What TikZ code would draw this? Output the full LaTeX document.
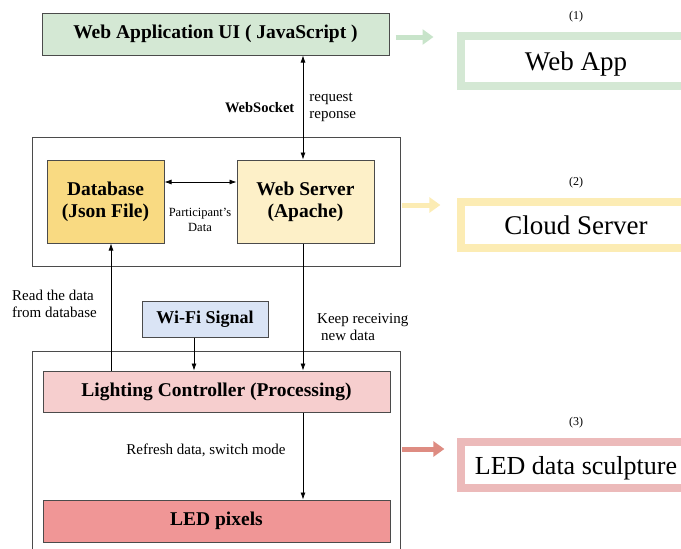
\documentclass[tikz,border=0pt]{standalone}
\usepackage{fontspec}
\setmainfont{Liberation Serif}
\usetikzlibrary{arrows.meta,positioning}
\definecolor{lsgray}{RGB}{75,75,75}
\definecolor{lsgreen}{RGB}{212,232,212}
\definecolor{lsgreenarr}{RGB}{200,228,202}
\definecolor{lsgold}{RGB}{249,218,130}
\definecolor{lscream}{RGB}{253,240,200}
\definecolor{lsyellow}{RGB}{252,236,180}
\definecolor{lsblue}{RGB}{218,228,245}
\definecolor{lspink}{RGB}{246,206,206}
\definecolor{lssalmon}{RGB}{240,150,150}
\definecolor{lsredarr}{RGB}{222,140,130}
\definecolor{lsrose}{RGB}{236,186,186}
\tikzset{
  lsbox/.style={draw=lsgray, line width=1pt, align=center, inner sep=0pt,
    font=\bfseries\fontsize{19.5}{22}\selectfont},
  lsframe/.style={draw=lsgray, line width=.8pt, inner sep=0pt},
  lspanel/.style={line width=8pt, fill=white, align=center, inner sep=0pt,
    minimum width=230pt, text depth=-2pt, font=\fontsize{27}{30}\selectfont},
  lsnum/.style={font=\fontsize{12}{14}\selectfont},
  lsnote/.style={font=\fontsize{15}{17}\selectfont, align=left, inner sep=0pt},
  lsarr/.style={-{Latex[length=7pt,width=5pt]}, line width=.7pt},
  lsarrboth/.style={{Latex[length=7pt,width=5pt]}-{Latex[length=7pt,width=5pt]}, line width=.7pt},
  lsbig/.style={-{Triangle[length=11pt,width=15pt]}, line width=5pt}
}

\begin{document}
\begin{tikzpicture}[x=1pt, y=-1pt]
  \useasboundingbox (0,0) rectangle (681,549);
  \clip (0,0) rectangle (681,549);

  % containers
  \node[lsframe, minimum width=368pt, minimum height=129pt] (cloud) at (216,201.5) {};
  \node[lsframe, minimum width=368pt, minimum height=209pt] (device) at (216,455.5) {};

  % blocks
  \node[lsbox, fill=lsgreen, minimum width=347pt, minimum height=42pt] (webui) at (215.5,34) {Web Application UI ( JavaScript )};
  \node[lsbox, fill=lsgold, minimum width=117pt, minimum height=83pt] (db) at (105.5,201.5) {Database\\(Json File)};
  \node[lsbox, fill=lscream, minimum width=137pt, minimum height=83pt] (srv) at (305.5,201.5) {Web Server\\(Apache)};
  \node[lsbox, fill=lsblue, minimum width=126pt, minimum height=36pt, font=\bfseries\fontsize{18}{21}\selectfont] (wifi) at (205,319) {Wi-Fi Signal};
  \node[lsbox, fill=lspink, minimum width=347pt, minimum height=41pt] (lc) at (216.5,391.5) {Lighting Controller (Processing)};
  \node[lsbox, fill=lssalmon, minimum width=347pt, minimum height=42pt] (led) at (216.5,521) {LED pixels};

  \coordinate (bus) at (303,0);
  \coordinate (feed) at (111,0);
  \coordinate (sig) at (194,0);

  % connectors
  \draw[lsarrboth] (webui.south -| bus) -- node[left=5pt, font=\bfseries\fontsize{14.5}{17}\selectfont] {WebSocket}
    node[right=6pt, lsnote] {request\\reponse} (srv.north -| bus);
  \draw[lsarrboth] ([yshift=19.5pt]db.east) -- ([yshift=19.5pt]srv.west);
  \node[font=\fontsize{12.5}{15}\selectfont, align=center] (pdata) at (200,220) {Participant's\\Data};
  \draw[lsarr] (srv.south -| bus) -- (lc.north -| bus);
  \draw[lsarr] (lc.north -| feed) -- (db.south -| feed);
  \draw[lsarr] (wifi.south -| sig) -- (lc.north -| sig);
  \draw[lsarr] (lc.south -| bus) -- (led.north -| bus);
  \node[lsnote, anchor=north west] (readlbl) at (12,290) {Read the data\\from database};
  \node[lsnote, anchor=north west] (keeplbl) at (317,313) {Keep receiving\\\hspace*{4pt}new data};
  \node[lsnote] (refresh) at (206,450) {Refresh data, switch mode};

  % layers on the right
  \node[lspanel, draw=lsgreen, minimum height=50pt] (app) at (576,61) {Web App};
  \node[lspanel, draw=lsyellow, minimum height=46pt] (cserver) at (576,225) {Cloud Server};
  \node[lspanel, draw=lsrose, minimum height=46pt, font=\fontsize{26}{29}\selectfont] (sculpt) at (576,465) {LED data sculpture};
  \node[lsnum, above=6pt of app] {(1)};
  \node[lsnum, above=6pt of cserver] {(2)};
  \node[lsnum, above=6pt of sculpt] {(3)};
  \draw[lsbig, lsgreenarr] ([xshift=6pt, yshift=-3pt]webui.east) -- ++(38,0);
  \draw[lsbig, lsyellow] ([xshift=2pt, yshift=-3.5pt]cloud.east) -- ++(38,0);
  \draw[lsbig, lsredarr] ([xshift=2pt, yshift=6.5pt]device.east) -- ++(42,0);
\end{tikzpicture}
\end{document}
